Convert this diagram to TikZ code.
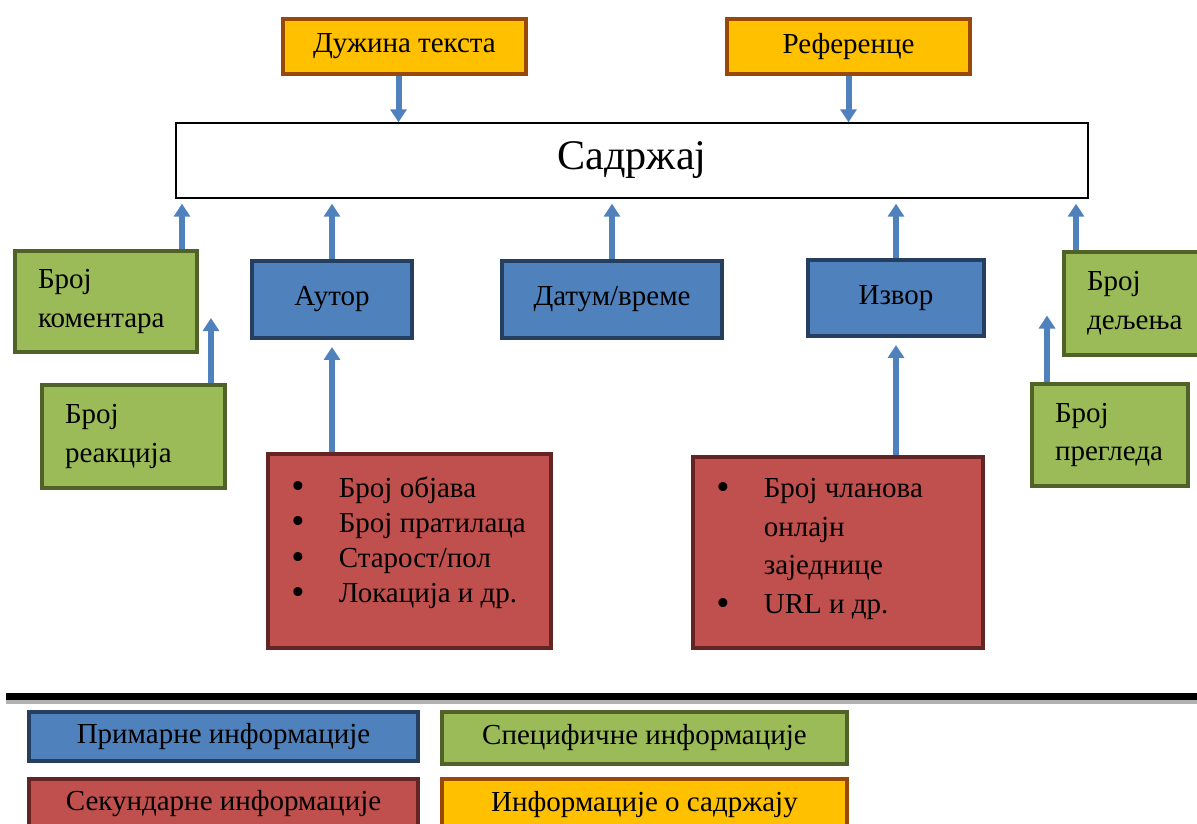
\documentclass[tikz,border=0pt]{standalone}
\usepackage{fontspec}
\setmainfont{Liberation Serif}
\usepackage{xcolor}
\usepackage{graphicx}
\usetikzlibrary{arrows.meta}

\definecolor{pblue}{HTML}{4F81BD}
\definecolor{pbluedark}{HTML}{243F60}
\definecolor{sgreen}{HTML}{9BBB59}
\definecolor{sgreendark}{HTML}{4F6228}
\definecolor{sred}{HTML}{C0504D}
\definecolor{sreddark}{HTML}{632423}
\definecolor{iorange}{HTML}{FFC000}
\definecolor{iorangedark}{HTML}{984807}

\newcommand{\itembullet}{\makebox[0.95cm][l]{\raisebox{-0.06em}{\scalebox{1.3}{•}}}}

\begin{document}
\begin{tikzpicture}[x=0.02cm,y=-0.02cm,
  box/.style={line width=0.08cm, inner sep=0pt, font=\fontsize{16.5}{22}\selectfont},
  primbox/.style={box, draw=pbluedark, fill=pblue},
  specbox/.style={box, draw=sgreendark, fill=sgreen, align=left, inner xsep=0.46cm},
  sekbox/.style={box, draw=sreddark, fill=sred},
  infbox/.style={box, draw=iorangedark, fill=iorange},
  itemtext/.style={inner sep=0pt, anchor=north west, align=left, font=\fontsize{16.5}{20}\selectfont},
  uparrow/.style={draw=pblue, line width=0.12cm, -{Triangle[width=0.32cm,length=0.26cm]}}]
\clip (0,0) rectangle (1197,824);

\node[infbox, minimum width=4.86cm, minimum height=1.1cm] (duz) at (404.5,46.5) {Дужина текста};
\node[infbox, minimum width=4.86cm, minimum height=1.1cm] (ref) at (848.5,46.5) {Референце};

\node[draw, line width=0.8pt, minimum width=18.24cm, minimum height=1.5cm, font=\fontsize{24}{28}\selectfont] (sad) at (632,160.5) {Садржај};

\node[specbox, minimum height=2.02cm, text width=2.72cm] (kom) at (106,301.5) {Број\\коментара};
\node[specbox, minimum height=2.06cm, text width=2.74cm] (rea) at (133.5,436.5) {Број\\реакција};
\node[specbox, minimum height=2.06cm, text width=2.80cm] (del) at (1157,303.5) {Број\\дељења};
\node[specbox, minimum height=2.06cm, text width=2.20cm] (pre) at (1110,435) {Број\\прегледа};

\node[primbox, minimum width=3.2cm, minimum height=1.54cm] (aut) at (332,299.5) {Аутор};
\node[primbox, minimum width=4.4cm, minimum height=1.54cm] (dat) at (612,299.5) {Датум/време};
\node[primbox, minimum width=3.52cm, minimum height=1.52cm] (izv) at (896,298) {Извор};

\node[sekbox, minimum width=5.66cm, minimum height=3.88cm] (aus) at (409.5,551) {};
\node[itemtext] (aus-text) at (291,476) {\itembullet Број објава\\
  \itembullet Број пратилаца\\
  \itembullet Старост/пол\\
  \itembullet Локација и др.};
\node[sekbox, minimum width=5.8cm, minimum height=3.82cm] (izs) at (838,552.5) {};
\node[itemtext, font=\fontsize{16.5}{22}\selectfont] (izs-text) at (716,478) {\itembullet Број чланова\\
  \hspace*{0.95cm}онлајн\\
  \hspace*{0.95cm}заједнице\\
  \itembullet URL и др.};

% arrows
\draw[uparrow] ([xshift=-0.12cm]duz.south) -- ([xshift=-0.12cm]duz.south |- sad.north);
\draw[uparrow] (ref.south) -- (ref.south |- sad.north);

\coordinate (kom-top) at ([xshift=-0.34cm]kom.north east);
\coordinate (del-top) at ([xshift=0.28cm]del.north west);
\draw[uparrow, shorten >=0.1cm] (kom-top) -- (kom-top |- sad.south);
\draw[uparrow, shorten >=0.1cm] (aut.north) -- (aut.north |- sad.south);
\draw[uparrow, shorten >=0.1cm] (dat.north) -- (dat.north |- sad.south);
\draw[uparrow, shorten >=0.1cm] (izv.north) -- (izv.north |- sad.south);
\draw[uparrow, shorten >=0.1cm] (del-top) -- (del-top |- sad.south);

\coordinate (rea-top) at ([xshift=-0.32cm]rea.north east);
\coordinate (rea-end) at ([yshift=1.3cm]rea-top);
\coordinate (pre-top) at ([xshift=0.34cm]pre.north west);
\coordinate (pre-end) at ([yshift=1.32cm]pre-top);
\draw[uparrow] (rea-top) -- (rea-end);
\draw[uparrow] (pre-top) -- (pre-end);

\draw[uparrow, shorten >=0.14cm] (aut.south |- aus.north) -- (aut.south);
\draw[uparrow, shorten >=0.14cm] (izv.south |- izs.north) -- (izv.south);

% legend
\draw[line width=0.14cm] (6,696.8) -- (1197,696.8);
\draw[gray!60, line width=0.07cm] (6,702) -- (1197,702);

\node[primbox, minimum width=7.78cm, minimum height=0.98cm] (prim) at (223.5,736.5) {Примарне информације};
\node[specbox, minimum width=8.1cm, minimum height=1.04cm, align=center] (spec) at (644.5,738) {Специфичне информације};
\node[sekbox, minimum width=7.78cm, minimum height=0.98cm] (sek) at (223.5,803.5) {Секундарне информације};
\node[infbox, minimum width=8.1cm, minimum height=1.04cm] (inf) at (644.5,805) {Информације о садржају};
\end{tikzpicture}
\end{document}
